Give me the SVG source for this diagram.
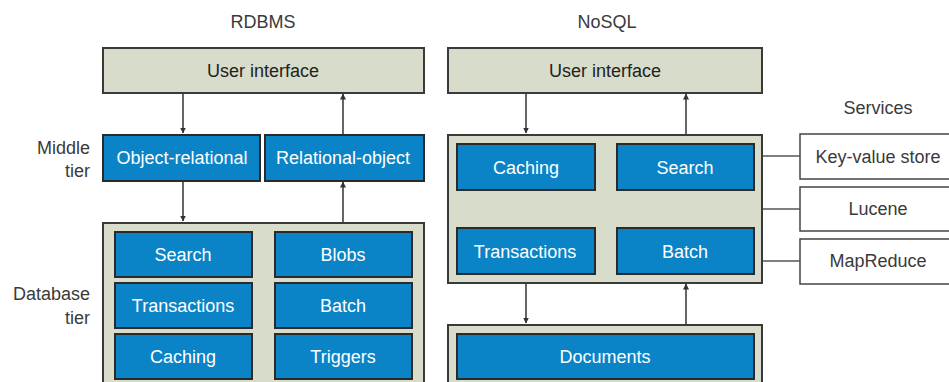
<svg xmlns="http://www.w3.org/2000/svg" width="949" height="382" viewBox="0 0 949 382">
  <defs>
    <marker id="arrow" viewBox="0 0 6 10" refX="5.5" refY="5" markerWidth="6" markerHeight="10" markerUnits="userSpaceOnUse" orient="auto">
      <path d="M0,2 L6,5 L0,8 Z" fill="#333"/>
    </marker>
    <style>
      text { font-family: "Liberation Sans", Arial, sans-serif; font-size: 18px; text-anchor: middle; }
      .title { fill: #3a3a3a; }
      .label { fill: #3a3a3a; text-anchor: end; }
      .panel { fill: #d7dccb; stroke: #3a3a3a; stroke-width: 2; }
      .blue { fill: #0a84c6; stroke: #2a2a2a; stroke-width: 2; }
      .blue-text { fill: #ffffff; }
      .svc { fill: #ffffff; stroke: #444; stroke-width: 1.5; }
      .svc-text { fill: #3a3a3a; }
      .ui-text { fill: #222; }
      .wire { stroke: #333; stroke-width: 1.5; fill: none; }
      .link { stroke: #555; stroke-width: 1.5; fill: none; }
    </style>
  </defs>

  <rect width="949" height="382" fill="#ffffff"/>

  <!-- Column headings and tier labels -->
  <text class="title" x="263" y="28">RDBMS</text>
  <text class="title" x="607" y="28">NoSQL</text>
  <text class="title" x="878" y="114">Services</text>
  <text class="label" x="90" y="154">Middle</text>
  <text class="label" x="90" y="177">tier</text>
  <text class="label" x="90" y="300">Database</text>
  <text class="label" x="90" y="324">tier</text>

  <!-- RDBMS stack -->
  <g id="rdbms-ui">
    <rect class="panel" x="103" y="48" width="321" height="45"/>
    <text class="ui-text" x="263" y="77">User interface</text>
  </g>
  <g id="object-relational">
    <rect class="blue" x="103" y="135" width="157" height="46"/>
    <text class="blue-text" x="182" y="164">Object-relational</text>
  </g>
  <g id="relational-object">
    <rect class="blue" x="265" y="135" width="159" height="46"/>
    <text class="blue-text" x="343" y="164">Relational-object</text>
  </g>
  <g id="rdbms-database">
    <rect class="panel" x="103" y="223" width="321" height="175"/>
    <g id="rdbms-search">
      <rect class="blue" x="115" y="232" width="137" height="45"/>
      <text class="blue-text" x="183" y="261">Search</text>
    </g>
    <g id="rdbms-transactions">
      <rect class="blue" x="115" y="283" width="137" height="45"/>
      <text class="blue-text" x="183" y="312">Transactions</text>
    </g>
    <g id="rdbms-caching">
      <rect class="blue" x="115" y="334" width="137" height="45"/>
      <text class="blue-text" x="183" y="363">Caching</text>
    </g>
    <g id="rdbms-blobs">
      <rect class="blue" x="275" y="232" width="137" height="45"/>
      <text class="blue-text" x="343" y="261">Blobs</text>
    </g>
    <g id="rdbms-batch">
      <rect class="blue" x="275" y="283" width="137" height="45"/>
      <text class="blue-text" x="343" y="312">Batch</text>
    </g>
    <g id="rdbms-triggers">
      <rect class="blue" x="275" y="334" width="137" height="45"/>
      <text class="blue-text" x="343" y="363">Triggers</text>
    </g>
  </g>

  <!-- NoSQL stack -->
  <g id="nosql-ui">
    <rect class="panel" x="448" y="48" width="314" height="45"/>
    <text class="ui-text" x="605" y="77">User interface</text>
  </g>
  <g id="nosql-middle">
    <rect class="panel" x="448" y="135" width="314" height="148"/>
    <g id="nosql-caching">
      <rect class="blue" x="457" y="144" width="138" height="46"/>
      <text class="blue-text" x="526" y="174">Caching</text>
    </g>
    <g id="nosql-search">
      <rect class="blue" x="617" y="144" width="137" height="46"/>
      <text class="blue-text" x="685" y="174">Search</text>
    </g>
    <g id="nosql-transactions">
      <rect class="blue" x="457" y="228" width="138" height="46"/>
      <text class="blue-text" x="525" y="258">Transactions</text>
    </g>
    <g id="nosql-batch">
      <rect class="blue" x="617" y="228" width="137" height="46"/>
      <text class="blue-text" x="685" y="258">Batch</text>
    </g>
  </g>
  <g id="nosql-documents">
    <rect class="panel" x="448" y="325" width="314" height="73"/>
    <rect class="blue" x="457" y="334" width="297" height="45"/>
    <text class="blue-text" x="605" y="363">Documents</text>
  </g>

  <!-- Services -->
  <g id="svc-key-value">
    <rect class="svc" x="800" y="134" width="160" height="45"/>
    <text class="svc-text" x="878" y="163">Key-value store</text>
  </g>
  <g id="svc-lucene">
    <rect class="svc" x="800" y="187" width="160" height="44"/>
    <text class="svc-text" x="878" y="215">Lucene</text>
  </g>
  <g id="svc-mapreduce">
    <rect class="svc" x="800" y="239" width="160" height="45"/>
    <text class="svc-text" x="878" y="267">MapReduce</text>
  </g>

  <!-- Connectors -->
  <g id="connectors">
    <line class="wire" x1="183" y1="94" x2="183" y2="133" marker-end="url(#arrow)"/>
    <line class="wire" x1="343" y1="134" x2="343" y2="94" marker-end="url(#arrow)"/>
    <line class="wire" x1="183" y1="182" x2="183" y2="221" marker-end="url(#arrow)"/>
    <line class="wire" x1="343" y1="222" x2="343" y2="182" marker-end="url(#arrow)"/>
    <line class="wire" x1="526" y1="94" x2="526" y2="133" marker-end="url(#arrow)"/>
    <line class="wire" x1="686" y1="134" x2="686" y2="94" marker-end="url(#arrow)"/>
    <line class="wire" x1="526" y1="284" x2="526" y2="323" marker-end="url(#arrow)"/>
    <line class="wire" x1="686" y1="324" x2="686" y2="284" marker-end="url(#arrow)"/>
    <line class="link" x1="763" y1="156" x2="800" y2="156"/>
    <line class="link" x1="763" y1="209" x2="800" y2="209"/>
    <line class="link" x1="763" y1="261" x2="800" y2="261"/>
  </g>
</svg>
